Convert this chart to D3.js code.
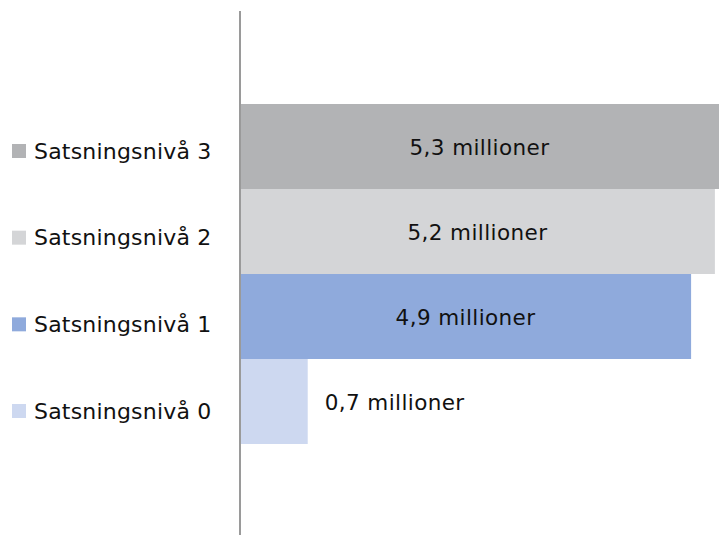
<!DOCTYPE html>
<html><head><meta charset="utf-8">
<script src="https://cdn.jsdelivr.net/npm/d3@7"></script>
<style>body{margin:0;background:#fff}svg{display:block}text{font-family:"DejaVu Sans",sans-serif}</style>
</head><body>
<svg id="c" width="719" height="535"></svg>
<script>
const series = ["Satsningsnivå 3","Satsningsnivå 2","Satsningsnivå 1","Satsningsnivå 0"];
const values = [5.33, 5.19, 4.93, 0.74];
const labels = ["5,3 millioner","5,2 millioner","4,9 millioner","0,7 millioner"];
const colors = ["#b2b3b5","#d4d5d7","#8faadc","#cdd8f0"];

const svg = d3.select("#c");
const x = d3.scaleLinear().domain([0, 5.235]).range([240, 719]);
const y = d3.scaleBand().domain(series).range([104, 444]).padding(0);

svg.selectAll("rect.bar").data(series).join("rect").attr("class","bar")
  .attr("x", x(0)).attr("y", d => y(d)).attr("height", y.bandwidth())
  .attr("width", (d,i) => x(values[i]) - x(0)).attr("fill", (d,i) => colors[i]);

svg.selectAll("text.lab").data(series).join("text").attr("class","lab")
  .attr("x", (d,i) => values[i] < 2 ? x(values[i]) + 17 : (x(0) + Math.min(x(values[i]), 719)) / 2)
  .attr("y", d => y(d) + y.bandwidth()/2 + 1)
  .attr("dy", "0.35em")
  .attr("text-anchor", (d,i) => values[i] < 2 ? "start" : "middle")
  .attr("font-size", 21.5).attr("letter-spacing", 0.4).attr("fill", "#111")
  .text((d,i) => labels[i]);

svg.append("line").attr("x1", x(0)).attr("x2", x(0)).attr("y1", 11).attr("y2", 535)
  .attr("stroke", "#9a9a9a").attr("stroke-width", 2);

const lg = svg.append("g");
const ly = d3.scalePoint().domain(series).range([151, 411]);
lg.selectAll("rect").data(series).join("rect")
  .attr("x", 12).attr("y", d => ly(d) - 7).attr("width", 14).attr("height", 14)
  .attr("fill", (d,i) => colors[i]);
lg.selectAll("text").data(series).join("text")
  .attr("x", 34).attr("y", d => ly(d)).attr("dy", "0.35em")
  .attr("font-size", 22).attr("letter-spacing", 0.2).attr("fill", "#111").text(d => d);
</script>
</body></html>
